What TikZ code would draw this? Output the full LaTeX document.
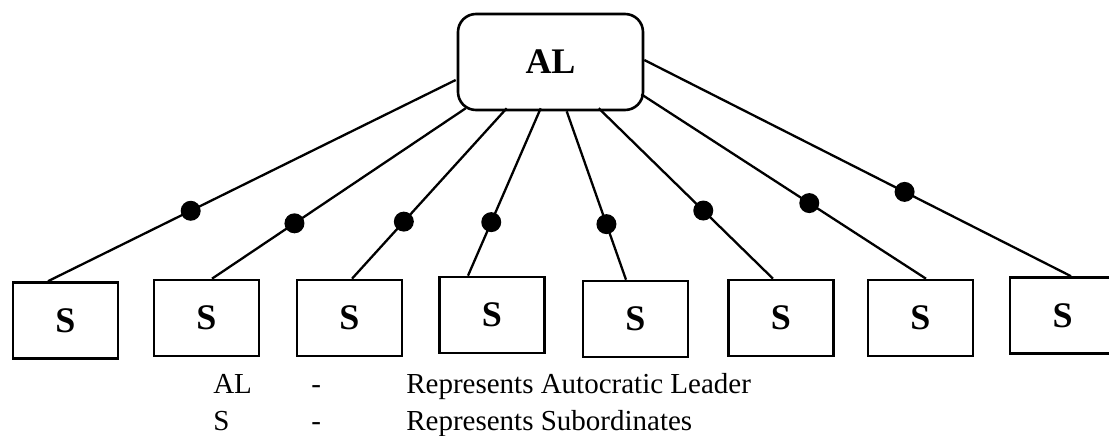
\documentclass[tikz,border=0pt]{standalone}
\usepackage{fontspec}
\setmainfont{Liberation Serif}
\usetikzlibrary{calc,positioning}

\begin{document}
\begin{tikzpicture}[
  x=1pt, y=-1pt,
  line width=2.6pt,
  leader/.style={draw, rounded corners=18pt, minimum width=185pt, minimum height=96pt,
                 font=\fontsize{36}{40}\selectfont\bfseries},
  sub/.style={draw, minimum width=105pt, minimum height=76pt,
              font=\fontsize{36}{40}\selectfont\bfseries},
  link/.style={line width=2.3pt},
  joint/.style={circle, fill, inner sep=0pt, minimum size=20pt},
  legend/.style={anchor=base west, inner sep=0pt, font=\fontsize{29}{32}\selectfont}
]
\useasboundingbox (0,0) rectangle (1109,436);

\node[leader] (al) at (550.5,62) {AL};

\node[sub] (s1) at (65.5,320.5) {S};
\node[sub] (s2) at (206.5,318) {S};
\node[sub] (s3) at (349.5,318) {S};
\node[sub] (s4) at (492,315) {S};
\node[sub] (s5) at (635.5,319) {S};
\node[sub] (s6) at (781,318) {S};
\node[sub] (s7) at (920.5,318) {S};
\node[sub] (s8) at (1062.5,315.5) {S};

\draw[link] ($(al.west)+(-1,18)$) -- node[joint, pos=0.65]{} ($(s1.north)+(-17.5,0)$);
\draw[link] ($(al.south west)+(9,-3)$) -- node[joint, pos=0.675]{} ($(s2.north)+(5.5,0)$);
\draw[link] ($(al.south west)+(50,-3)$) -- node[joint, pos=0.665]{} ($(s3.north)+(2.5,0)$);
\draw[link] ($(al.south west)+(84,-3)$) -- node[joint, pos=0.68]{} ($(s4.north)+(-24,0)$);
\draw[link] ($(al.south west)+(110,0)$) -- node[joint, pos=0.67]{} ($(s5.north)+(-9.5,0)$);
\draw[link] ($(al.south west)+(142,-3)$) -- node[joint, pos=0.6]{} ($(s6.north)+(-8,0)$);
\draw[link] ($(al.south east)+(-3,-17)$) -- node[joint, pos=0.59]{} ($(s7.north)+(5.5,0)$);
\draw[link] ($(al.east)+(0,-2)$) -- node[joint, pos=0.61]{} ($(s8.north)+(8.5,0)$);

% legend
\node[legend] (keyal) at (212,393) {AL};
\node[legend] (dashal) at (310,393) {-};
\node[legend] (textal) at (405,393) {Represents Autocratic Leader};
\node[legend] (keys) at (212,430) {S};
\node[legend] (dashs) at (310,430) {-};
\node[legend] (texts) at (405,430) {Represents Subordinates};
\end{tikzpicture}
\end{document}
